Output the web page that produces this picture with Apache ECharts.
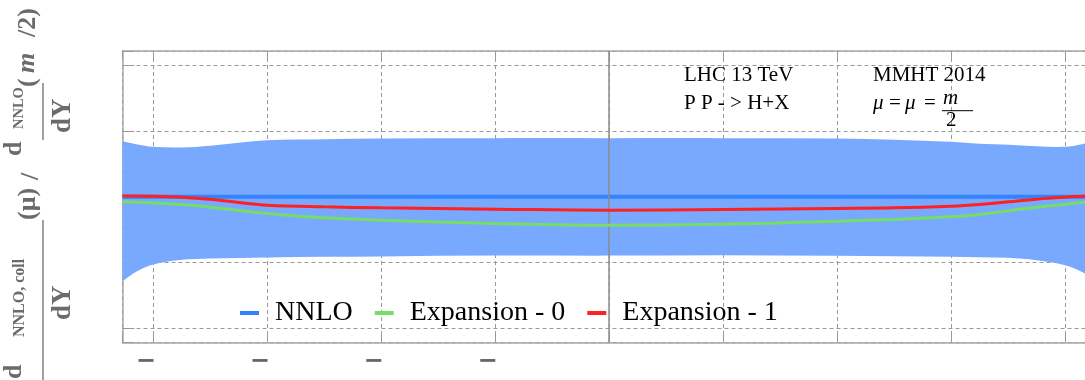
<!DOCTYPE html>
<html><head><meta charset="utf-8">
<script src="https://cdn.jsdelivr.net/npm/echarts@6/dist/echarts.min.js"></script>
<style>html,body{margin:0;padding:0;background:#fff}#c{width:1085px;height:380px}</style>
</head><body><div id="c"></div>
<script>
// Rapidity Y sample points
const rapidity   = [-4.27, -4.15, -4, -3.75, -3.5, -3.25, -3, -2.5, -2, -1, 0, 1, 2, 2.5, 3, 3.25, 3.5, 3.75, 4, 4.15, 4.27];
// NNLO scale band (upper / lower edge), ratio to NNLO central
const bandUpper  = [1.0843, 1.0798, 1.0757, 1.0747, 1.0775, 1.0820, 1.0858, 1.0873, 1.0884, 1.0889, 1.0889, 1.0889, 1.0884, 1.0866, 1.0835, 1.0805, 1.0790, 1.0765, 1.0757, 1.0798, 1.0843];
const bandLower  = [0.8716, 0.8858, 0.8970, 0.9040, 0.9060, 0.9068, 0.9076, 0.9085, 0.9092, 0.9105, 0.9104, 0.9110, 0.9101, 0.9095, 0.9086, 0.9080, 0.9070, 0.9035, 0.8959, 0.8855, 0.8716];
// Curves
const nnlo       = [1, 1, 1, 1, 1, 1, 1, 1, 1, 1, 1, 1, 1, 1, 1, 1, 1, 1, 1, 1, 1];
const expansion0 = [0.9921, 0.9915, 0.9906, 0.9880, 0.9840, 0.9790, 0.9745, 0.9678, 0.9643, 0.9593, 0.9567, 0.9582, 0.9628, 0.9654, 0.9693, 0.9730, 0.9784, 0.9840, 0.9886, 0.9910, 0.9924];
const expansion1 = [1.0008, 1.0008, 1.0006, 0.9992, 0.9960, 0.9912, 0.9871, 0.9845, 0.9830, 0.9810, 0.9795, 0.9806, 0.9821, 0.9830, 0.9856, 0.9882, 0.9921, 0.9962, 0.9992, 1.0005, 1.0015];
// Tick labels (digits are missing in the original rendering; only the minus sign shows)
const xTickValues = [-4, -3, -2, -1, 0, 1, 2, 3, 4];
const xTickLabels = ['\u2212', '\u2212', '\u2212', '\u2212', '', '', '', '', ''];
const seriesNames = ['NNLO', 'Expansion - 0', 'Expansion - 1'];

const pairs = (ys) => rapidity.map((x, i) => [x, ys[i]]);

// cubic Hermite path through pixel points (finite-difference slopes)
function hermite(pts) {
  let d = '';
  const n = pts.length;
  const slope = (i) => {
    const a = pts[Math.max(0, i - 1)], b = pts[Math.min(n - 1, i + 1)];
    return (b[1] - a[1]) / (b[0] - a[0]);
  };
  for (let i = 0; i < n - 1; i++) {
    const p = pts[i], q = pts[i + 1], dx = (q[0] - p[0]) / 3;
    const m0 = slope(i), m1 = slope(i + 1);
    d += ' C' + (p[0] + dx) + ',' + (p[1] + m0 * dx) + ' ' + (q[0] - dx) + ',' + (q[1] - m1 * dx) + ' ' + q[0] + ',' + q[1];
  }
  return d;
}

const chart = echarts.init(document.getElementById('c'), null, {renderer: 'canvas'});
const serif = 'Liberation Serif';
const frame = {show: true, onZero: false, lineStyle: {color: '#a8a8a8', width: 1.5}};
const split = {show: true, lineStyle: {color: '#9a9a9a', width: 1, type: [4, 3]}};
const gray = '#6b6b6b';

const yTitle = {
  type: 'group', x: 0, y: 380, rotation: Math.PI / 2, silent: true,
  children: [
    {type: 'text', x: 1, y: 14.7, style: {text: 'd', font: 'bold 26px ' + serif, fill: gray, verticalAlign: 'middle'}},
    {type: 'text', x: 43, y: 19.4, style: {text: 'NNLO, coll', font: 'bold 16px ' + serif, fill: gray, verticalAlign: 'middle'}},
    {type: 'line', shape: {x1: 0, y1: 43, x2: 160, y2: 43}, style: {stroke: gray, lineWidth: 1.3}},
    {type: 'text', x: 60, y: 63.4, style: {text: 'dY', font: 'bold 27px ' + serif, fill: gray, verticalAlign: 'middle'}},
    {type: 'text', x: 160, y: 28.7, style: {text: '(\u03bc)', font: 'bold 26px ' + serif, fill: gray, verticalAlign: 'middle'}},
    {type: 'text', x: 200, y: 31, style: {text: '/', font: 'bold 26px ' + serif, fill: gray, verticalAlign: 'middle'}},
    {type: 'text', x: 224, y: 14.7, style: {text: 'd', font: 'bold 26px ' + serif, fill: gray, verticalAlign: 'middle'}},
    {type: 'text', x: 251, y: 19.4, style: {text: 'NNLO', font: 'bold 14.5px ' + serif, fill: gray, verticalAlign: 'middle'}},
    {type: 'line', shape: {x1: 240, y1: 43, x2: 297, y2: 43}, style: {stroke: gray, lineWidth: 1.3}},
    {type: 'text', x: 247, y: 63.4, style: {text: 'dY', font: 'bold 27px ' + serif, fill: gray, verticalAlign: 'middle'}},
    {type: 'text', x: 293, y: 28, style: {text: '(', font: 'bold 26px ' + serif, fill: gray, verticalAlign: 'middle'}},
    {type: 'text', x: 307, y: 27.5, style: {text: 'm', font: 'italic bold 26px ' + serif, fill: gray, verticalAlign: 'middle'}},
    {type: 'text', x: 343, y: 28, style: {text: '/2)', font: 'bold 26px ' + serif, fill: gray, verticalAlign: 'middle'}}
  ]
};

const annot = (text, x, y, font) => ({type: 'text', x: x, y: y, silent: true, z: 20,
  style: {text: text, font: font || ('21px ' + serif), fill: '#000', verticalAlign: 'middle'}});

const option = {
  backgroundColor: '#fff',
  animation: false,
  grid: {left: 122.5, right: -10.8, top: 51, bottom: 37.5, containLabel: false, outerBoundsMode: 'none'},
  legend: {
    data: seriesNames, left: 235, top: 293, icon: 'rect', itemWidth: 19, itemHeight: 4, itemGap: 22,
    textStyle: {fontFamily: serif, fontSize: 28, color: '#000', padding: [0, 0, 0, 11], lineHeight: 30}
  },
  xAxis: [
    {type: 'value', min: -4.27, max: 4.27, minInterval: 1, maxInterval: 1, position: 'bottom',
     axisLine: frame, axisTick: {show: true, inside: true, length: 8, lineStyle: {color: '#999'}},
     axisLabel: {show: true, margin: 19.5, fontFamily: 'DejaVu Sans', fontWeight: 'bold', fontSize: 24, color: '#666',
       align: 'right', verticalAlign: 'middle', padding: [0, -2.5, 0, 0],
       formatter: (v) => { const k = xTickValues.indexOf(Math.round(v * 1000) / 1000); return k >= 0 ? xTickLabels[k] : ''; }},
     splitLine: split},
    {type: 'value', min: -4.27, max: 4.27, minInterval: 1, maxInterval: 1, position: 'top',
     axisLine: frame, axisTick: {show: true, inside: true, length: 8, lineStyle: {color: '#999'}},
     axisLabel: {show: false}, splitLine: {show: false}}
  ],
  yAxis: [
    {type: 'value', min: 0.7784, max: 1.2213, minInterval: 0.1, maxInterval: 0.1,
     axisLine: frame, axisTick: {show: true, inside: true, length: 12, lineStyle: {color: '#999'}},
     axisLabel: {show: false}, splitLine: split}
  ],
  series: [
    {name: 'band', type: 'custom', data: pairs(bandUpper), encode: {x: 0, y: 1}, silent: true, z: 2, clip: true,
     renderItem: (params, api) => {
       if (params.dataIndex !== 0) return null;
       const up = rapidity.map((x, i) => api.coord([x, bandUpper[i]]));
       const lo = rapidity.map((x, i) => api.coord([x, bandLower[i]])).reverse();
       const d = 'M' + up[0][0] + ',' + up[0][1] + hermite(up) + ' L' + lo[0][0] + ',' + lo[0][1] + hermite(lo) + ' Z';
       return {type: 'path', shape: {pathData: d}, style: {fill: '#78a9fe', stroke: null}};
     }},
    {name: seriesNames[0], type: 'line', data: pairs(nnlo), smooth: 0.4, symbol: 'none', color: '#3383ff',
     lineStyle: {color: '#3383ff', width: 4}, z: 4},
    {name: seriesNames[1], type: 'line', data: pairs(expansion0), smooth: 0.4, symbol: 'none', color: '#77dd66',
     lineStyle: {color: '#77dd66', width: 3}, z: 5},
    {name: seriesNames[2], type: 'line', data: pairs(expansion1), smooth: 0.4, symbol: 'none', color: '#ff2020',
     lineStyle: {color: '#ff2020', width: 3}, z: 6},
    {name: 'axisY0', type: 'line', data: [], z: 10, silent: true,
     markLine: {silent: true, symbol: 'none', label: {show: false}, animation: false,
       lineStyle: {color: '#8a8a8a', width: 1.5, type: 'solid'}, data: [{xAxis: 0}]}}
  ],
  graphic: [
    yTitle,
    annot('LHC 13 TeV', 684, 75),
    annot('MMHT 2014', 873, 75),
    annot('P P - > H+X', 684, 103.3),
    annot('\u03bc', 873, 103.3, 'italic 21px ' + serif),
    annot('=', 889, 103.3),
    annot('\u03bc', 905, 103.3, 'italic 21px ' + serif),
    annot('=', 924, 103.3),
    annot('m', 943, 98.3, 'italic 21px ' + serif),
    {type: 'line', silent: true, z: 20, shape: {x1: 942, y1: 110.7, x2: 973, y2: 110.7}, style: {stroke: '#000', lineWidth: 1}},
    annot('2', 946, 120.3)
  ]
};
chart.setOption(option);
</script>
</body></html>
